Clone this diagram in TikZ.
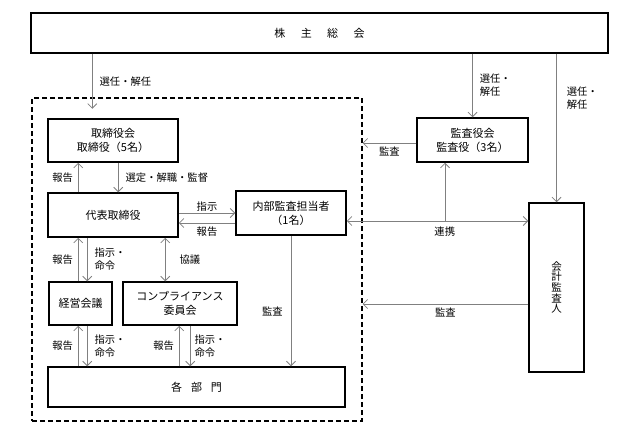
\documentclass[tikz,border=0pt]{standalone}
\usepackage{fontspec}
\setmainfont{Noto Sans CJK JP}
\usetikzlibrary{arrows.meta}
\tikzset{
  box/.style={draw, line width=1.5pt, align=center, inner sep=0pt, text=black, font=\fontsize{11}{14}\selectfont},
  frame/.style={draw, dashed, line width=1.1pt, dash pattern=on 5pt off 3pt},
  link/.style={draw=black!50, line width=0.8pt},
  lbl/.style={text=black, align=left, inner sep=2pt, font=\fontsize{10.3}{13}\selectfont},
}

\begin{document}
\begin{tikzpicture}[x=1pt, y=-1pt, >={Straight Barb[length=4.5pt,width=9pt]}]
  \useasboundingbox (0,0) rectangle (639,436);

  % frame of the company
  \node [frame, minimum width=330, minimum height=323] (frame) at (197,259.5) {};

  \node [box, minimum width=577, minimum height=40] (gm) at (319.5,33) {株\hspace{1.4em}主\hspace{1.4em}総\hspace{1.4em}会};
  \node [box, minimum width=130, minimum height=43] (board) at (113,140.5) {取締役会\\取締役（5名）};
  \node [box, minimum width=130, minimum height=44] (rep) at (113,215) {代表取締役};
  \node [box, minimum width=110, minimum height=44] (internal) at (291,213) {内部監査担当者\\（1名）};
  \node [box, minimum width=111, minimum height=44] (kansa) at (472.5,140) {監査役会\\監査役（3名）};
  \node [box, minimum width=55, minimum height=169, font=\fontsize{10.5}{10.7}\selectfont] (cpa) at (556.5,287.5) {会\\計\\監\\査\\人};
  \node [box, minimum width=63, minimum height=43] (mgmt) at (80.5,303.5) {経営会議};
  \node [box, minimum width=114, minimum height=43] (comp) at (180,303.5) {コンプライアンス\\委員会};
  \node [box, minimum width=297, minimum height=40] (depts) at (196.5,387) {各\hspace{0.8em}部\hspace{0.8em}門};

  % from the general meeting
  \draw [link,->] ([xshift=62]gm.south west) -- ++(0,55) node [lbl, midway, right=5pt] {選任・解任};
  \draw [link,->] (kansa.north |- gm.south) -- (kansa.north) node [lbl, midway, right=5pt] {選任・\\解任};
  \draw [link,->] (cpa.north |- gm.south) -- (cpa.north) node [lbl, pos=0.3, right=8pt] {選任・\\解任};

  % board and representative director
  \draw [link,->] ([xshift=31]rep.north west) -- ([xshift=31]board.south west) node [lbl, midway, left=3pt] {報告};
  \draw [link,->] ([xshift=71]board.south west) -- ([xshift=71]rep.north west) node [lbl, midway, right=5pt] {選定・解職・監督};

  % representative director and internal audit
  \draw [link,->] (internal.west -| rep.east) -- (internal.west) node [lbl, midway, above=-1pt] {指示};
  \draw [link,->] ([yshift=-10]internal.west) coordinate (ia) -- (ia -| rep.east) node [lbl, midway, below=1pt] {報告};

  % representative director and the committees
  \draw [link,->] ([xshift=30]mgmt.north west) coordinate (m1) -- (m1 |- rep.south) node [lbl, midway, left=3pt] {報告};
  \draw [link,->] ([xshift=39]mgmt.north west |- rep.south) coordinate (m2) -- (m2 |- mgmt.north) node [lbl, midway, right=5pt] {指示・\\命令};
  \draw [link,<->] ([xshift=43]comp.north west) coordinate (c0) -- (c0 |- rep.south) node [lbl, midway, right=12pt] {協議};

  % committees and departments
  \draw [link,->] ([xshift=30]mgmt.south west |- depts.north) coordinate (d1) -- (d1 |- mgmt.south) node [lbl, midway, left=3pt] {報告};
  \draw [link,->] ([xshift=39]mgmt.south west) coordinate (d2) -- (d2 |- depts.north) node [lbl, midway, right=5pt] {指示・\\命令};
  \draw [link,->] ([xshift=57]comp.south west |- depts.north) coordinate (d3) -- (d3 |- comp.south) node [lbl, midway, left=3pt] {報告};
  \draw [link,->] ([xshift=68]comp.south west) coordinate (d4) -- (d4 |- depts.north) node [lbl, midway, right=2pt] {指示・\\命令};

  \draw [link,->] (internal.south) -- (internal.south |- depts.north) node [lbl, pos=0.58, left=6pt] {監査};

  % auditors
  \draw [link,->] ([yshift=-3]kansa.west) coordinate (k1) -- (k1 -| frame.east) node [lbl, midway, below=1pt] {監査};
  \draw [link,<->] ([yshift=-8]internal.east) coordinate (lk) -- (lk -| cpa.west) node [lbl, pos=0.54, below=3pt] {連携};
  \draw [link,<-] ([xshift=-27.5]kansa.south) coordinate (km) -- (km |- lk);
  \draw [link,->] ([yshift=-16.5]cpa.west) coordinate (a1) -- (a1 -| frame.east) node [lbl, midway, below=1pt] {監査};
\end{tikzpicture}
\end{document}
